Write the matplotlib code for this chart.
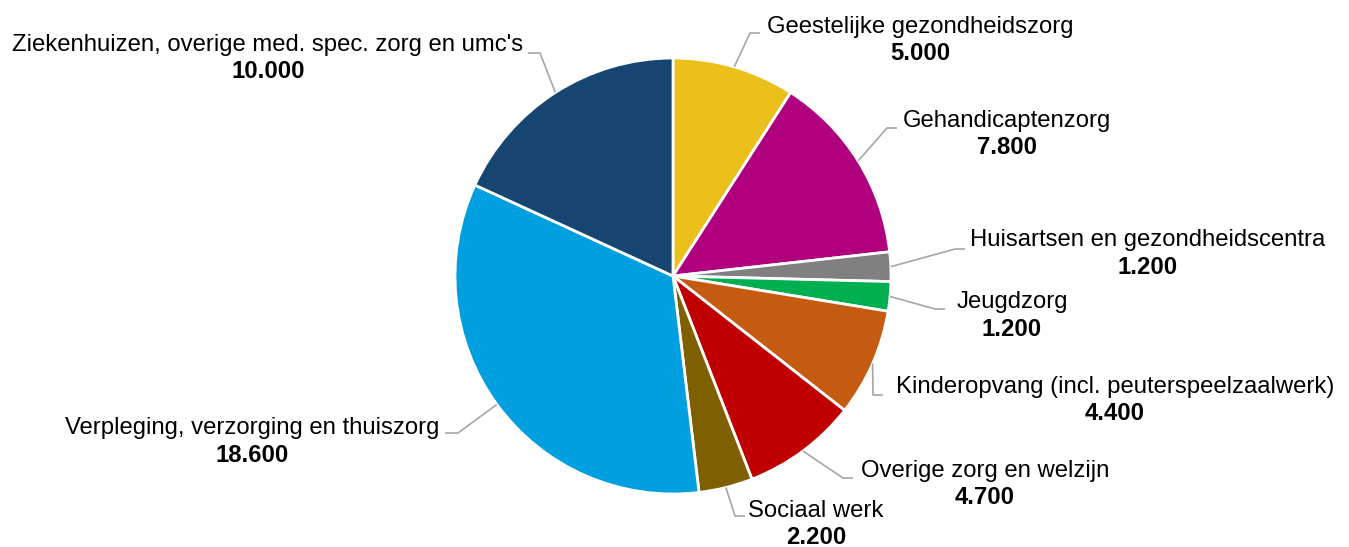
import matplotlib
matplotlib.use("Agg")
import matplotlib.pyplot as plt
import numpy as np

categories = [
    "Geestelijke gezondheidszorg",
    "Gehandicaptenzorg",
    "Huisartsen en gezondheidscentra",
    "Jeugdzorg",
    "Kinderopvang (incl. peuterspeelzaalwerk)",
    "Overige zorg en welzijn",
    "Sociaal werk",
    "Verpleging, verzorging en thuiszorg",
    "Ziekenhuizen, overige med. spec. zorg en umc's",
]
values = [5000, 7800, 1200, 1200, 4400, 4700, 2200, 18600, 10000]
value_labels = ["5.000", "7.800", "1.200", "1.200", "4.400", "4.700", "2.200", "18.600", "10.000"]
colors = ["#EBC01A", "#B0007D", "#808080", "#00B050", "#C55A11",
          "#C00000", "#7F6000", "#009FE0", "#154570"]

# layout (image pixel coords, y down): text centre x, first line y, leader elbow, leader end
W, H = 1349, 547
label_layout = [
    (920, 27, (750, 33), (760, 33)),
    (1007, 121, (887, 128), (897, 128)),
    (1148, 240, (955, 249), (965, 249)),
    (1012, 302, (935, 309), (945, 309)),
    (1115, 387, (873, 395), (883, 395)),
    (985, 471, (843, 478), (853, 478)),
    (816, 511, (735, 516), (745, 516)),
    (252, 428, (458, 433), (445, 433)),
    (268, 45, (540, 53), (528, 53)),
]

plt.rcParams['font.family'] = ['Liberation Sans', 'DejaVu Sans']
fig = plt.figure(figsize=(W / 100, H / 100), dpi=100)
ax = fig.add_axes([0, 0, 1, 1])

cx, cy, r = 673, H - 276, 218
wedges, _ = ax.pie(values, colors=colors, startangle=90, counterclock=False,
                   center=(cx, cy), radius=r, frame=True,
                   wedgeprops=dict(edgecolor='white', linewidth=2.0))
ax.set_xlim(0, W)
ax.set_ylim(0, H)
ax.set_aspect('equal')
ax.axis('off')

fs = 17.2
for w, cat, vl, (tx, ty, elbow, end) in zip(wedges, categories, value_labels, label_layout):
    ang = np.deg2rad((w.theta1 + w.theta2) / 2)
    sx = cx + r * np.cos(ang)
    sy = cy + r * np.sin(ang)
    ex, ey = elbow
    fx, fy = end
    ax.plot([sx, ex, fx], [sy, H - ey, H - fy], color='#A6A6A6', lw=1.2,
            solid_capstyle='butt', zorder=1)
    ax.text(tx, H - ty, cat, ha='center', va='center', fontsize=fs, color='black')
    ax.text(tx, H - ty - 27, vl, ha='center', va='center', fontsize=fs,
            fontweight='bold', color='black')

fig.savefig("out.png", dpi=100)
